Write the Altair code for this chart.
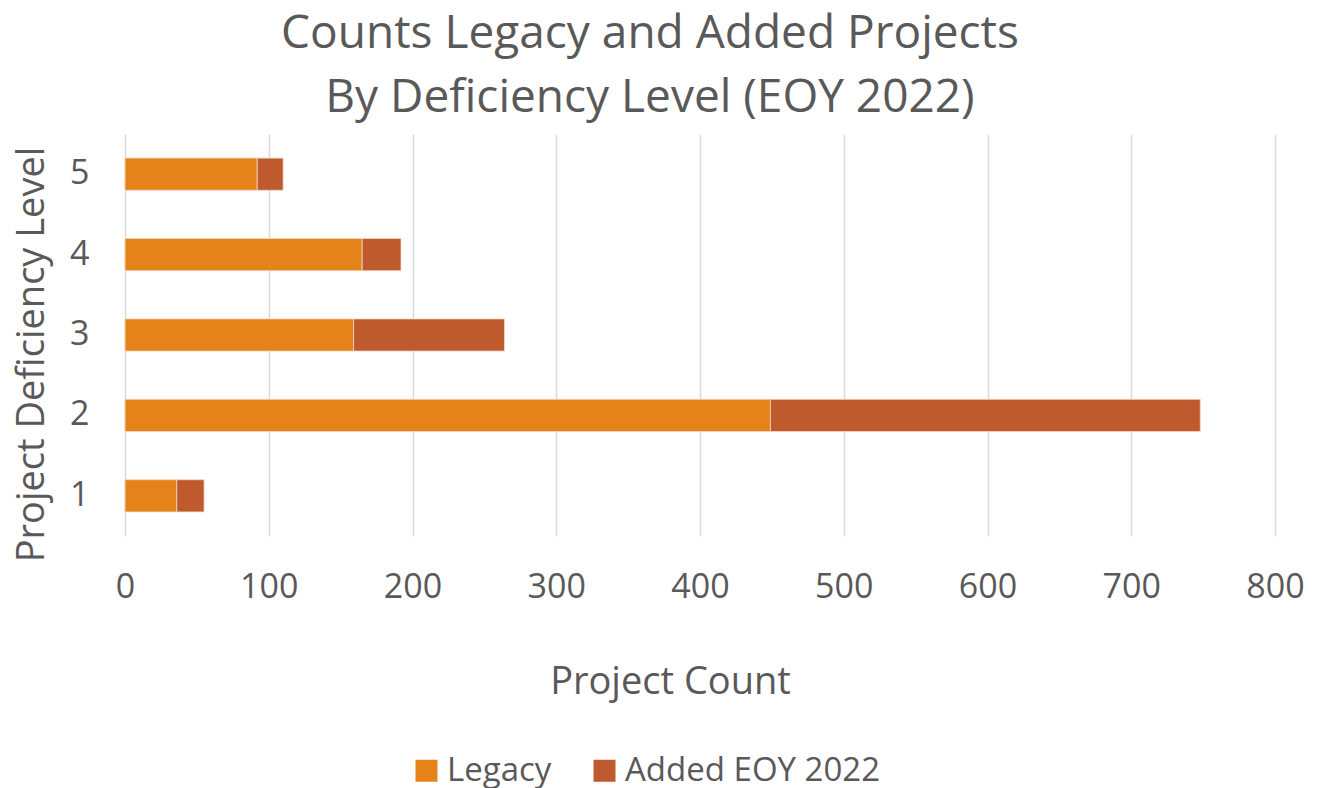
import altair as alt
import pandas as pd

levels = [1, 2, 3, 4, 5]
legacy = [36, 449, 159, 165, 92]
added = [19, 299, 105, 27, 18]
series = ["Legacy", "Added EOY 2022"]
colors = ["#E5831A", "#BE5A2D"]

rows = []
for lv, a, b in zip(levels, legacy, added):
    rows.append({"level": lv, "series": series[0], "count": a, "ord": 0})
    rows.append({"level": lv, "series": series[1], "count": b, "ord": 1})
df = pd.DataFrame(rows)

FONT = "Open Sans"
GREY = "#595959"

chart = alt.Chart(df).mark_bar(stroke="#F4D7C4", strokeWidth=0.8).encode(
    x=alt.X("count:Q", stack="zero",
            scale=alt.Scale(domain=[0, 800], nice=False),
            axis=alt.Axis(values=[0, 100, 200, 300, 400, 500, 600, 700, 800],
                          title="Project Count", grid=True, gridColor="#D9D9D9",
                          gridWidth=1.5, domain=False, ticks=False,
                          labelFontSize=34, labelColor=GREY, labelFont=FONT,
                          labelPadding=34, titleFontSize=38, titleFont=FONT,
                          titleColor=GREY, titleFontWeight="normal",
                          titlePadding=59, titleX=545, labelFlush=False)),
    y=alt.Y("level:O", sort="descending",
            scale=alt.Scale(paddingInner=0.6, paddingOuter=0.3),
            axis=alt.Axis(title="Project Deficiency Level", domain=False, ticks=False,
                          labelFontSize=34, labelColor=GREY, labelFont=FONT,
                          labelPadding=36, titleFontSize=38, titleFont=FONT,
                          titleColor=GREY, titleFontWeight="normal",
                          titlePadding=18, titleY=220, labelAngle=0)),
    color=alt.Color("series:N", scale=alt.Scale(domain=series, range=colors),
                    legend=alt.Legend(title=None, orient="none", direction="horizontal",
                                      legendX=285, legendY=620,
                                      symbolType="square", symbolSize=484,
                                      symbolStrokeWidth=0, labelLimit=400,
                                      labelFontSize=33, labelFont=FONT, labelColor=GREY,
                                      columnPadding=36, labelOffset=4)),
    order=alt.Order("ord:Q"),
).properties(
    width=1150,
    height=402,
    autosize=alt.AutoSizeParams(type="none"),
    padding={"left": 117, "top": 126, "right": 40, "bottom": 260},
    title=alt.TitleParams(text=["Counts Legacy and Added Projects",
                                "By Deficiency Level (EOY 2022)"],
                          fontSize=46, font=FONT, color=GREY, fontWeight="normal",
                          lineHeight=64, anchor="middle", dx=-50, offset=12),
).configure_view(stroke=None)

chart.save("out.html", embed_options={"renderer": "svg", "actions": False})
